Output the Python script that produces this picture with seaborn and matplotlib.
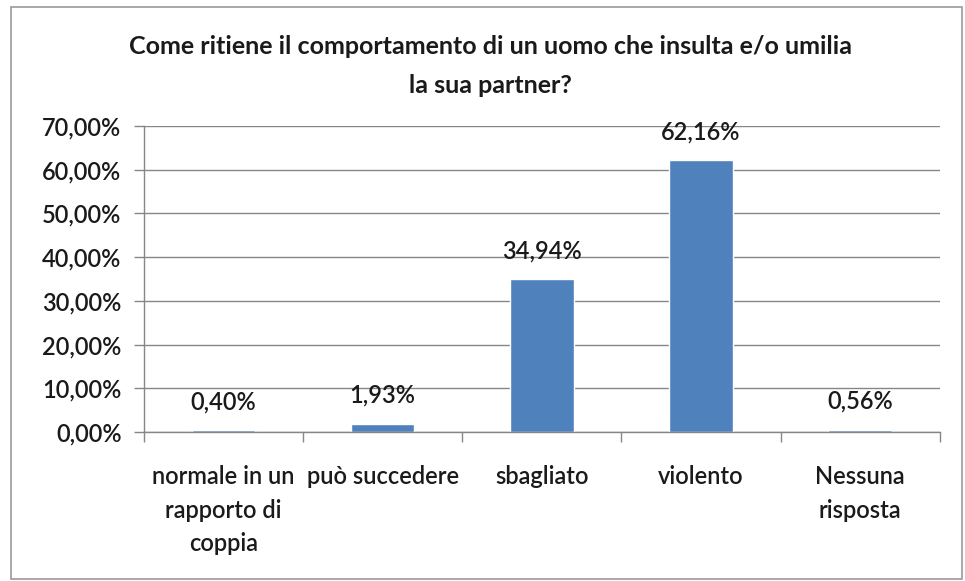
import matplotlib
matplotlib.use("Agg")
import matplotlib.pyplot as plt
from matplotlib.patches import Rectangle
from matplotlib.ticker import FixedLocator
import pandas as pd
import seaborn as sns

categories = [
    "normale in un\nrapporto di\ncoppia",
    "può succedere",
    "sbagliato",
    "violento",
    "Nessuna\nrisposta",
]
values = [0.40, 1.93, 34.94, 62.16, 0.56]
value_labels = ["0,40%", "1,93%", "34,94%", "62,16%", "0,56%"]
y_ticks = [0, 10, 20, 30, 40, 50, 60, 70]
y_tick_labels = ["0,00%", "10,00%", "20,00%", "30,00%", "40,00%", "50,00%", "60,00%", "70,00%"]
title = "Come ritiene il comportamento di un uomo che insulta e/o umilia\nla sua partner?"

sns.set_theme(style="white")
plt.rcParams["font.family"] = ["Lato", "DejaVu Sans"]

df = pd.DataFrame({"categoria": categories, "valore": values})

fig = plt.figure(figsize=(9.65, 5.81), dpi=100)
ax = fig.add_axes([0.149, 0.2565, 0.825, 0.5265])

bar_color = "#4F81BD"
grid_color = "#868686"
text_color = "#1a1a1a"
fs = 17

sns.barplot(data=df, x="categoria", y="valore", color=bar_color, width=0.4,
            saturation=1, ax=ax)

ax.set_ylim(0, 70)
ax.set_xlim(-0.5, len(categories) - 0.5)
ax.yaxis.set_major_locator(FixedLocator(y_ticks))
ax.set_yticklabels(y_tick_labels)
ax.grid(axis="y", color=grid_color, linewidth=1)
ax.set_axisbelow(True)

for side in ["top", "right"]:
    ax.spines[side].set_visible(False)
for side in ["left", "bottom"]:
    ax.spines[side].set_color(grid_color)
    ax.spines[side].set_linewidth(1)

ax.tick_params(axis="y", which="major", direction="out", length=7, width=1,
               color=grid_color, labelsize=fs, pad=9, left=True,
               labelcolor=text_color)
ax.tick_params(axis="x", which="major", length=0, labelsize=fs, pad=24,
               labelcolor=text_color)
ax.xaxis.set_minor_locator(FixedLocator([i - 0.5 for i in range(len(categories) + 1)]))
ax.tick_params(axis="x", which="minor", direction="out", length=7, width=1,
               color=grid_color, bottom=True)
for lbl in ax.get_xticklabels():
    lbl.set_linespacing(1.55)
    lbl.set_fontweight("semibold")
for lbl in ax.get_yticklabels():
    lbl.set_fontweight("semibold")
ax.set_xlabel("")
ax.set_ylabel("")

for i, (v, txt) in enumerate(zip(values, value_labels)):
    ax.annotate(txt, (i, v), xytext=(0, 12), textcoords="offset points",
                ha="center", va="bottom", fontsize=fs, fontweight="semibold",
                color=text_color)

fig.text(0.508, 0.887, title, ha="center", va="center", fontsize=18,
         fontweight="bold", linespacing=1.85, color=text_color)

fig.patches.append(Rectangle((0.011, 0.004), 0.986, 0.984, transform=fig.transFigure,
                             fill=False, edgecolor="#9a9a9a", linewidth=1.2))

fig.savefig("out.png", dpi=100, facecolor="white")
